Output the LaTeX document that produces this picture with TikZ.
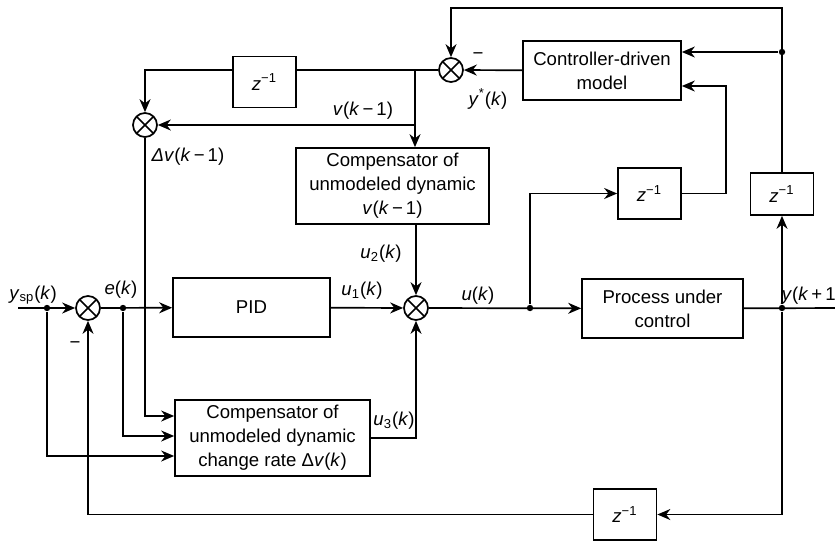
\documentclass[tikz,border=0pt]{standalone}
\usepackage{fontspec}
\setmainfont{Liberation Sans}
\usetikzlibrary{arrows.meta,positioning,calc}

\begin{document}
\begin{tikzpicture}[x=0.5pt,y=-0.5pt,>={Stealth[length=6.5pt,width=5.5pt]},line width=0.85pt,font=\fontsize{9.3}{12}\selectfont]
\tikzstyle{B}=[draw,align=center,inner sep=0pt]
\tikzstyle{Z}=[B,minimum width=31.5pt,minimum height=25.5pt]
\tikzstyle{S}=[draw,circle,minimum size=12pt,inner sep=0pt,path picture={\draw (path picture bounding box.north west)--(path picture bounding box.south east) (path picture bounding box.north east)--(path picture bounding box.south west);}]
\tikzstyle{L}=[inner sep=0pt]
\tikzstyle{dot}=[circle,fill,inner sep=0pt,minimum size=3.2pt]
\useasboundingbox (0,0) rectangle (835,541);
% blocks
\node[S] (sum1) at (88,308) {};
\node[B,minimum width=78.5pt,minimum height=29.5pt] (pid) at (251.5,307.5) {PID};
\node[S] (sum2) at (416,308) {};
\node[B,minimum width=80.5pt,minimum height=29.5pt] (proc) at (662.5,308.5) {Process under\\control};
\node[B,minimum width=96.5pt,minimum height=38pt] (comp1) at (392.5,186) {Compensator of\\unmodeled dynamic\\\textit{v}(\textit{k}\,−\,1)};
\node[B,minimum width=97.5pt,minimum height=38pt] (comp3) at (272.5,438) {Compensator of\\unmodeled dynamic\\change rate Δ\textit{v}(\textit{k})};
\node[B,minimum width=79pt,minimum height=29.5pt] (model) at (602,70.5) {Controller-driven\\model};
\node[S] (sum3) at (451,70) {};
\node[S] (sumdv) at (145,125) {};
\node[Z] (zA) at (264.5,82) {\textit{z}\textsuperscript{−1}};
\node[Z] (zB) at (649.5,193.5) {\textit{z}\textsuperscript{−1}};
\node[Z,minimum height=21pt] (zC) at (782,194) {\textit{z}\textsuperscript{−1}};
\node[Z] (zD) at (625,514.5) {\textit{z}\textsuperscript{−1}};
% branch points
\coordinate (in) at (18,308);
\node[dot] (ys) at (47,308) {};
\node[dot] (e) at (123,308) {};
\node[dot] (ub) at (530,308) {};
\node[dot] (yd) at (782,308) {};
\node[dot] (md) at (782,52) {};
\coordinate (out) at (850,308);
\coordinate (tr) at (782,8);
\coordinate (mr) at (726,86);
\coordinate (vd) at (415,70);
\coordinate (vb) at (415,125);
% main path
\draw[->] (in) -- (sum1);
\draw[->] (sum1) -- (pid);
\draw[->] (pid) -- (sum2);
\draw[->] (sum2) -- (proc);
\draw[->] (proc) -- (out);
% model loop
\draw[->] (yd) -- (zC);
\draw[->] (zC) -- (tr) -| (sum3);
\draw[->] (md) -- (model.east |- md);
\draw[->] (ub) |- (zB);
\draw[->] (zB) -| (mr) -- (model.east |- mr);
\draw[->] (model) -- (sum3);
\draw (sum3) -- (zA.east |- sum3);
\draw[->] (zA.west |- sum3) -| (sumdv);
\draw[->] (vd) -- (comp1.north -| vd);
\draw[->] (vb) -- (sumdv);
\draw[->] (comp1.south -| sum2) -- (sum2);
% compensator inputs
\draw[->] (sumdv) |- ([yshift=11pt]comp3.west);
\draw[->] (e) |- ([yshift=1pt]comp3.west);
\draw[->] (ys) |- ([yshift=-9pt]comp3.west);
\draw[->] (comp3.east) -| (sum2);
% feedback
\draw[->] (yd) |- (zD);
\draw[->] (zD) -| (sum1);
% labels
\node[L] (lysp) at (33,295) {\textit{y}\textsubscript{sp}(\textit{k})};
\node[L] (le) at (121,290) {\textit{e}(\textit{k})};
\node[L] (lm1) at (75,345) {−};
\node[L] (lu1) at (362,291) {\textit{u}\textsubscript{1}(\textit{k})};
\node[L] (lu2) at (381,254) {\textit{u}\textsubscript{2}(\textit{k})};
\node[L] (lu3) at (394,421) {\textit{u}\textsubscript{3}(\textit{k})};
\node[L] (lu) at (478,296) {\textit{u}(\textit{k})};
\node[L,anchor=west] (ly) at (781,296) {\textit{y}(\textit{k}\,+\,1)};
\node[L] (ldv) at (188,157) {\textit{Δv}(\textit{k}\,−\,1)};
\node[L] (lv) at (363,111) {\textit{v}(\textit{k}\,−\,1)};
\node[L] (lys) at (488,99) {\textit{y}\textsuperscript{*}(\textit{k})};
\node[L] (lm3) at (478,56) {−};
\end{tikzpicture}
\end{document}
